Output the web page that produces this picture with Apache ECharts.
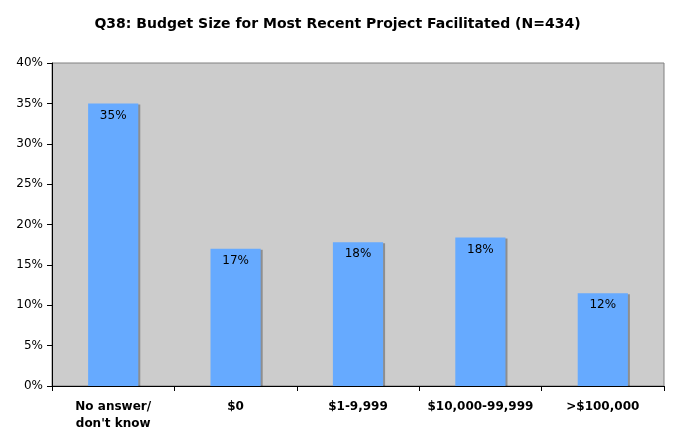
<!DOCTYPE html>
<html><head><meta charset="utf-8">
<script src="https://cdn.jsdelivr.net/npm/echarts@6/dist/echarts.min.js"></script>
<style>html,body{margin:0;padding:0;background:#fff}#c{width:675px;height:442px}</style>
</head><body><div id="c"></div>
<script>
const categories = ['No answer/\ndon\'t know', '$0', '$1-9,999', '$10,000-99,999', '>$100,000'];
const values = [35.0, 17.0, 17.8, 18.4, 11.5];
const labels = ['35%', '17%', '18%', '18%', '12%'];
const yTicks = [0, 5, 10, 15, 20, 25, 30, 35, 40];

const chart = echarts.init(document.getElementById('c'));
chart.setOption({
  animation: false,
  title: {
    text: 'Q38: Budget Size for Most Recent Project Facilitated (N=434)',
    left: 'center', top: 12,
    textStyle: {fontFamily: 'DejaVu Sans', fontSize: 14, fontWeight: 'bold', color: '#000'}
  },
  grid: {left: 52, right: 11, top: 63, bottom: 56, backgroundColor: '#cccccc', show: true, borderColor: '#808080', borderWidth: 1},
  xAxis: {
    type: 'category', data: categories,
    axisLine: {lineStyle: {color: '#000', width: 1}},
    axisTick: {show: true, interval: 0, alignWithLabel: false, length: 5, lineStyle: {color: '#000'}},
    axisLabel: {interval: 0, align: 'center', fontFamily: 'DejaVu Sans', fontSize: 12, fontWeight: 'bold', color: '#000', margin: 12, lineHeight: 17}
  },
  yAxis: {
    type: 'value', min: 0, max: 40, interval: 5,
    axisLine: {show: true, lineStyle: {color: '#000'}},
    axisTick: {show: true, length: 5, lineStyle: {color: '#000'}},
    splitLine: {show: false},
    axisLabel: {fontFamily: 'DejaVu Sans', fontSize: 12, color: '#000', margin: 9,
      formatter: v => yTicks.includes(v) ? v + '%' : ''}
  },
  series: [{
    type: 'bar', data: values, barWidth: '41%',
    itemStyle: {color: '#66aaff', shadowColor: 'rgba(0,0,0,0.3)', shadowOffsetX: 2, shadowOffsetY: 1, shadowBlur: 0},
    label: {show: true, position: 'insideTop', distance: 6, fontFamily: 'DejaVu Sans', fontSize: 12, color: '#000',
      formatter: p => labels[p.dataIndex]}
  }]
});
</script></body></html>
